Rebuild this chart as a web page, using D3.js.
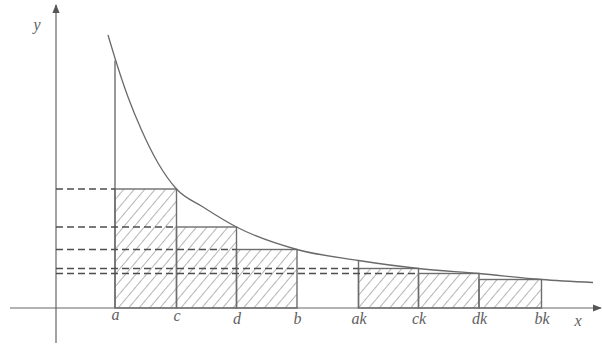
<!DOCTYPE html>
<meta charset="utf-8">
<style>
    body { margin: 0; background: #fff; }
    .lbl { font-family: "Liberation Serif", serif; font-style: italic; font-size: 16px; fill: #5e5e5e; }
</style>
<svg width="602" height="347"></svg>
<script src="https://d3js.org/d3.v7.min.js"></script>
<script>
    // tick labels and their positions along x
    var xTicks = ["a", "c", "d", "b", "ak", "ck", "dk", "bk"];
    var xPos = [1.18, 2.41, 3.61, 4.82, 6.05, 7.25, 8.46, 9.71];

    // rectangles [from, to, height]
    var rectFrom = ["a", "c", "d", "ak", "ck", "dk"];
    var rectTo = ["c", "d", "b", "ck", "dk", "bk"];
    var rectHeight = [2.38, 1.62, 1.17, 0.79, 0.69, 0.57];

    // dashed guides: height and where they stop
    var dashHeight = [2.38, 1.62, 1.17, 0.79, 0.69];
    var dashTo = ["a", "c", "d", "ak", "ck"];

    // verticals that run up to the curve
    var riseAt = ["a", "ak"];
    var riseHeight = [4.95, 0.95];

    // the curve
    var curveX = [1.04, 1.21, 1.44, 1.71, 2.04, 2.41, 2.94, 3.61, 4.82, 6.05, 7.25, 8.46, 9.71, 10.74];
    var curveY = [5.46, 4.9, 4.22, 3.56, 2.9, 2.38, 2.02, 1.62, 1.17, 0.95, 0.79, 0.69, 0.57, 0.51];

    var svg = d3.select("svg");

    var x = d3.scaleLinear().domain([0, 10]).range([56, 556]);
    var y = d3.scaleLinear().domain([0, 5]).range([308, 58]);

    var pos = {};
    xTicks.forEach(function (t, i) { pos[t] = xPos[i]; });

    var defs = svg.append("defs");
    defs.append("pattern")
        .attr("id", "hatch")
        .attr("patternUnits", "userSpaceOnUse")
        .attr("width", 8).attr("height", 8)
        .attr("patternTransform", "rotate(40)")
        .append("line")
        .attr("x1", 0).attr("y1", 0).attr("x2", 0).attr("y2", 8)
        .attr("stroke", "#777").attr("stroke-width", 1.1);
    defs.append("marker")
        .attr("id", "arrow")
        .attr("viewBox", "0 0 10 10")
        .attr("refX", 9).attr("refY", 5)
        .attr("markerWidth", 9).attr("markerHeight", 9)
        .attr("markerUnits", "userSpaceOnUse")
        .attr("orient", "auto")
        .append("path").attr("d", "M0,1L10,5L0,9Z").attr("fill", "#555");

    // axes
    svg.append("line")
        .attr("x1", x(-0.92)).attr("x2", x(10.9))
        .attr("y1", y(0)).attr("y2", y(0))
        .attr("stroke", "#666").attr("stroke-width", 1.2)
        .attr("marker-end", "url(#arrow)");
    svg.append("line")
        .attr("x1", x(0)).attr("x2", x(0))
        .attr("y1", y(-0.7)).attr("y2", y(6.06))
        .attr("stroke", "#666").attr("stroke-width", 1.2)
        .attr("marker-end", "url(#arrow)");

    // hatched rectangles
    svg.append("g").selectAll("rect")
        .data(rectHeight).enter().append("rect")
        .attr("x", function (d, i) { return x(pos[rectFrom[i]]); })
        .attr("width", function (d, i) { return x(pos[rectTo[i]]) - x(pos[rectFrom[i]]); })
        .attr("y", function (d) { return y(d); })
        .attr("height", function (d) { return y(0) - y(d); })
        .attr("fill", "url(#hatch)")
        .attr("stroke", "#6e6e6e").attr("stroke-width", 1.4);

    // verticals up to the curve
    svg.append("g").selectAll("line")
        .data(riseHeight).enter().append("line")
        .attr("x1", function (d, i) { return x(pos[riseAt[i]]); })
        .attr("x2", function (d, i) { return x(pos[riseAt[i]]); })
        .attr("y1", y(0))
        .attr("y2", function (d) { return y(d); })
        .attr("stroke", "#6e6e6e").attr("stroke-width", 1.4);

    // dashed guides
    svg.append("g").selectAll("line")
        .data(dashHeight).enter().append("line")
        .attr("x1", x(0))
        .attr("x2", function (d, i) { return x(pos[dashTo[i]]); })
        .attr("y1", function (d) { return y(d); })
        .attr("y2", function (d) { return y(d); })
        .attr("stroke", "#4e4e4e").attr("stroke-width", 1.7)
        .attr("stroke-dasharray", "7,4");

    // curve
    var line = d3.line()
        .x(function (d, i) { return x(curveX[i]); })
        .y(function (d) { return y(d); })
        .curve(d3.curveMonotoneX);
    svg.append("path")
        .datum(curveY)
        .attr("d", line)
        .attr("fill", "none")
        .attr("stroke", "#6a6a6a").attr("stroke-width", 1.3);

    // tick labels
    var lift = { a: 4, c: 3 };
    var ax = svg.append("g")
        .attr("transform", "translate(0," + y(0) + ")")
        .call(d3.axisBottom(x).tickValues(xPos)
            .tickFormat(function (d, i) { return xTicks[i]; })
            .tickSize(0).tickPadding(5));
    ax.select(".domain").remove();
    ax.selectAll("text")
        .attr("class", "lbl")
        .attr("font-family", null).attr("font-size", null)
        .attr("fill", null)
        .attr("y", function (d, i) { return 5 - (lift[xTicks[i]] || 0); });

    svg.append("text").attr("class", "lbl")
        .attr("x", x(10.44)).attr("y", 326)
        .attr("text-anchor", "middle").text("x");
    svg.append("text").attr("class", "lbl")
        .attr("x", 37).attr("y", 30)
        .attr("text-anchor", "middle").text("y");
</script>
